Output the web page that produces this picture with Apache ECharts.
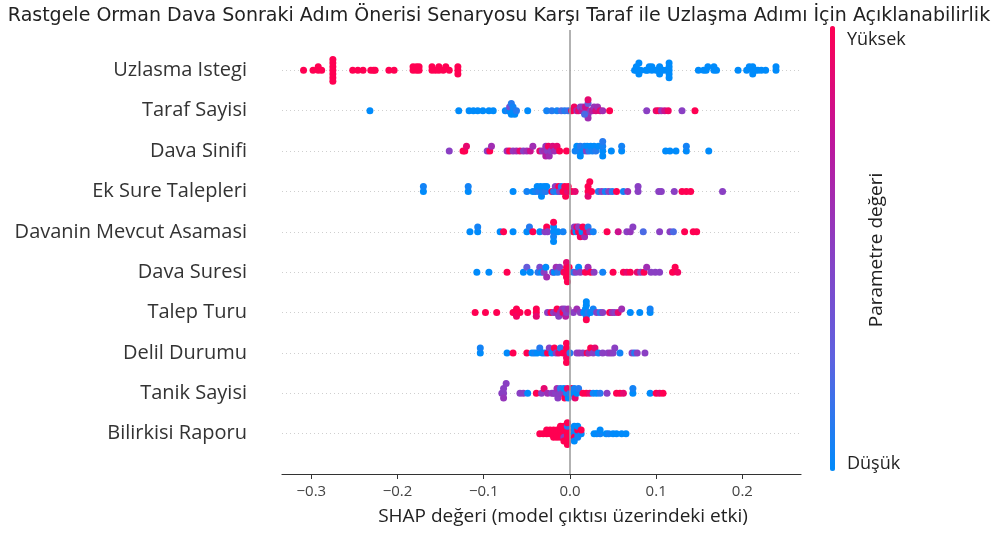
<!DOCTYPE html>
<html>
<head>
<meta charset="utf-8">
<script src="https://cdn.jsdelivr.net/npm/echarts@6/dist/echarts.min.js"></script>
<style>
  html, body { margin: 0; padding: 0; background: #fff; }
  #chart { width: 998px; height: 534px; }
</style>
</head>
<body>
<div id="chart"></div>
<script>
// feature names, top to bottom
const features = ['Uzlasma Istegi', 'Taraf Sayisi', 'Dava Sinifi', 'Ek Sure Talepleri', 'Davanin Mevcut Asamasi',
  'Dava Suresi', 'Talep Turu', 'Delil Durumu', 'Tanik Sayisi', 'Bilirkisi Raporu'];
const xTicks = [-0.3, -0.2, -0.1, 0, 0.1, 0.2];

// [shap value, feature value (0 = düşük, 1 = yüksek)]
const uzlasmaIstegi = [
  [-0.309,1],[-0.298,1],[-0.292,1],[-0.292,1],[-0.288,1],
  [-0.275,1],[-0.275,1],[-0.275,1],[-0.275,1],[-0.275,1],[-0.275,1],[-0.275,1],
  [-0.252,1],[-0.246,1],[-0.240,1],[-0.231,1],[-0.228,1],[-0.226,1],[-0.210,1],[-0.204,1],
  [-0.182,1],[-0.182,1],[-0.178,1],[-0.178,1],[-0.175,1],[-0.175,1],
  [-0.160,1],[-0.160,1],[-0.156,1],[-0.152,1],[-0.152,1],[-0.147,1],[-0.144,1],[-0.140,1],
  [-0.130,1],[-0.130,1],[-0.130,1],
  [0.075,0],[0.077,0],[0.077,0],[0.080,0],[0.080,0],[0.082,0],[0.088,0],[0.090,0],[0.092,0],[0.095,0],[0.095,0],
  [0.100,0],[0.102,0],[0.104,0],[0.104,0],[0.108,0],[0.112,0],[0.115,0],[0.115,0],[0.115,0],[0.115,0],[0.115,0],
  [0.149,0],[0.155,0],[0.158,0],[0.160,0],[0.167,0],[0.167,0],[0.170,0],[0.195,0],
  [0.205,0],[0.208,0],[0.212,0],[0.212,0],[0.212,0],[0.215,0],[0.218,0],[0.222,0],[0.227,0],[0.239,0],[0.239,0]
];
const tarafSayisi = [
  [-0.232,0],[-0.129,0],[-0.117,0],[-0.112,0],[-0.107,0],[-0.101,0],[-0.094,0],[-0.089,0],
  [-0.075,0],[-0.072,0.1],[-0.070,0],[-0.070,0.4],[-0.068,0],[-0.068,0.1],[-0.066,0],[-0.066,0.05],[-0.064,0],[-0.062,0.1],
  [-0.049,0],[-0.027,0.05],[-0.021,0.1],[-0.015,0.05],[-0.010,0.2],[-0.006,0.1],[-0.002,0.15],
  [0.002,1],[0.005,0.95],[0.008,0.6],[0.010,0.9],[0.012,0.5],[0.014,0.7],[0.015,0.5],[0.018,0.6],[0.018,0.8],
  [0.021,0.5],[0.021,0.3],[0.021,0.6],[0.021,0.9],[0.024,0.5],[0.026,0.7],[0.028,0.55],[0.030,0.85],[0.032,0.6],
  [0.035,0.9],[0.038,0.6],[0.017,0.2],[0.046,1],
  [0.089,0.5],[0.100,0.9],[0.103,1],[0.106,0.6],[0.110,0.8],[0.114,0.95],[0.130,0.5],[0.145,1]
];
const davaSinifi = [
  [-0.140,0.5],[-0.124,1],[-0.122,1],[-0.120,0.9],[-0.096,0.5],[-0.093,1],[-0.091,0.6],[-0.073,0.6],[-0.070,1],
  [-0.066,0.55],[-0.062,0.6],[-0.058,0.9],[-0.054,0.5],[-0.050,0.6],[-0.046,0.8],[-0.043,0.6],
  [-0.035,0.9],[-0.032,0.5],[-0.030,0.6],[-0.028,0.55],[-0.028,0.7],[-0.026,0.5],[-0.025,0.95],[-0.024,0.6],
  [-0.022,0.5],[-0.020,0.85],[-0.018,0.6],[-0.015,0.9],[-0.012,1],[-0.004,1],
  [0.006,0.05],[0.008,0],[0.010,0.05],[0.012,0.1],[0.012,0],[0.015,0],[0.017,0.05],[0.019,0.5],[0.020,0],
  [0.022,0.1],[0.024,0],[0.026,0.05],[0.028,0],[0.030,0.1],[0.033,0],
  [0.038,0],[0.038,0.05],[0.038,0],[0.038,0.1],[0.048,0],[0.060,0],[0.060,0.05],
  [0.111,0],[0.116,0],[0.123,0],[0.135,0],[0.135,0.05],[0.161,0]
];
const ekSureTalepleri = [
  [-0.170,0],[-0.170,0.05],[-0.118,0],[-0.118,0.05],[-0.066,0],[-0.050,0.05],
  [-0.043,0],[-0.040,0.05],[-0.038,0],[-0.036,0.1],[-0.034,0],[-0.033,0],[-0.031,0.05],[-0.030,0],[-0.028,0.1],[-0.027,0],
  [-0.021,1],[-0.019,0.1],[-0.017,0.5],[-0.015,0.05],[-0.013,1],[-0.012,0.5],[-0.010,0.1],[-0.008,1],
  [-0.006,1],[-0.005,1],[-0.003,0.9],[-0.002,1],[0.002,1],[0.006,0.9],
  [0.021,1],[0.021,1],[0.021,0.9],[0.023,1],[0.025,1],[0.033,0.1],[0.037,0.5],[0.041,0.05],[0.045,0.5],[0.049,0.1],
  [0.054,1],[0.062,0.05],[0.067,0.6],[0.079,0.5],[0.079,0.5],[0.103,0.5],[0.106,0.5],[0.121,0.5],
  [0.130,1],[0.135,1],[0.140,1],[0.177,0.5]
];
const davaninMevcutAsamasi = [
  [-0.116,0],[-0.107,0],[-0.107,0.05],[-0.081,0],[-0.077,1],[-0.066,0],[-0.050,0],[-0.047,0.1],[-0.043,1],
  [-0.035,0],[-0.029,0.5],[-0.027,1],[-0.026,0.5],[-0.019,0],[-0.019,0],[-0.019,0.05],[-0.019,1],[-0.019,0],
  [-0.014,0],[-0.008,0.05],
  [0.004,1],[0.005,0.5],[0.007,0],[0.008,0.9],[0.010,1],[0.010,0.5],[0.012,0.95],[0.014,0],[0.015,1],
  [0.017,0.6],[0.019,0.9],[0.021,0.1],[0.023,0.5],[0.027,0.05],[0.043,1],[0.056,0.8],[0.066,0.5],[0.070,0.55],
  [0.073,0.5],[0.085,0.2],[0.104,0.5],[0.116,0.5],[0.120,0.2],[0.133,1],[0.143,1],[0.147,1]
];
const davaSuresi = [
  [-0.108,0],[-0.094,0],[-0.073,1],[-0.054,0],[-0.050,0.3],[-0.046,0],[-0.037,0.1],[-0.035,0.4],[-0.033,0],
  [-0.030,0.5],[-0.028,0],[-0.027,0.6],[-0.020,0.5],[-0.018,0],[-0.016,0.6],[-0.014,0.1],[-0.012,0.5],
  [-0.007,1],[-0.005,0.95],[-0.004,1],[-0.004,1],[-0.004,0.9],[-0.003,1],[-0.002,1],[-0.001,1],
  [0.004,0.1],[0.007,0.5],[0.010,0],[0.012,0.5],[0.018,1],[0.021,0.6],[0.024,1],[0.028,0.5],[0.038,0.05],
  [0.050,1],[0.062,1],[0.066,0.9],[0.070,1],[0.078,0.9],[0.082,0.5],[0.086,1],[0.089,0.6],[0.094,0.5],
  [0.099,0.5],[0.104,0.5],[0.119,1],[0.122,1],[0.125,0.95]
];
const talepTuru = [
  [-0.110,1],[-0.098,1],[-0.085,1],[-0.066,1],[-0.064,1],[-0.062,1],[-0.062,0.95],[-0.058,1],[-0.049,1],
  [-0.039,1],[-0.039,1],[-0.039,0.9],[-0.026,0.5],[-0.022,1],[-0.019,0.5],[-0.016,0.6],[-0.015,1],
  [-0.013,0.5],[-0.011,0.55],[-0.009,0.6],[-0.008,1],[-0.006,0.5],[-0.005,0.7],[-0.004,0.5],[-0.002,0.6],
  [0.004,0.5],[0.008,0.6],[0.012,0.5],
  [0.016,0],[0.018,0],[0.019,0.05],[0.019,0],[0.019,1],[0.019,0],[0.021,0.1],[0.024,0],[0.027,0.05],
  [0.031,0.5],[0.035,0.1],[0.038,0.5],[0.046,1],[0.049,0.6],[0.052,0.5],[0.056,0.9],[0.060,0.6],
  [0.070,0],[0.081,0],[0.093,0],[0.093,0.05]
];
const delilDurumu = [
  [-0.104,0],[-0.104,0.05],[-0.073,0],[-0.066,1],[-0.050,1],[-0.044,0],[-0.041,0.05],[-0.038,0],[-0.035,0.1],
  [-0.032,0],[-0.029,0.05],[-0.026,1],[-0.024,0.5],[-0.021,0],[-0.018,1],[-0.016,0.5],[-0.013,0.9],[-0.011,0.1],
  [-0.008,1],[-0.004,1],[-0.004,1],[-0.004,0.95],[-0.004,1],[-0.004,1],[0.000,0.1],
  [0.008,0.5],[0.011,0.55],[0.015,0.5],[0.020,1],[0.022,0.6],[0.024,1],[0.027,0.5],[0.029,0.9],[0.033,0.05],
  [0.038,0.5],[0.044,0.5],[0.047,0.55],[0.050,0.5],[0.052,0.5],[0.058,0.05],[0.072,0.5],[0.075,0.1],
  [0.078,0.5],[0.087,0.5]
];
const tanikSayisi = [
  [-0.079,0.5],[-0.077,0.5],[-0.077,0.5],[-0.077,0.55],[-0.074,0.5],[-0.058,0.5],[-0.054,0.5],[-0.049,0],
  [-0.039,1],[-0.033,0.5],[-0.030,0.9],[-0.026,0.6],[-0.021,0.5],[-0.019,0.55],[-0.017,0.5],[-0.015,0.6],
  [-0.014,0.5],[-0.012,0.5],[-0.011,0.1],[-0.009,0.5],[-0.007,0],[-0.006,1],[-0.004,0.05],[-0.003,0.9],
  [-0.002,0],[0.000,0.1],[0.002,1],[0.003,0],[0.005,0.05],[0.006,0.9],[0.008,0],[0.010,0.1],
  [0.015,1],[0.019,1],[0.023,0.9],[0.027,0.05],[0.031,0],[0.035,0.1],[0.043,0.5],[0.054,1],[0.058,1],
  [0.062,0.9],[0.073,0],[0.073,0.05],[0.093,0],[0.100,1],[0.104,0.9],[0.108,1]
];
const bilirkisiRaporu = [
  [-0.035,1],[-0.031,1],[-0.027,1],[-0.027,1],[-0.023,1],[-0.023,1],
  [-0.019,1],[-0.019,1],[-0.019,1],[-0.015,1],[-0.015,1],[-0.015,1],
  [-0.011,1],[-0.011,1],[-0.011,1],[-0.011,1],
  [-0.007,1],[-0.007,1],[-0.007,0.5],[-0.007,1],[-0.007,1],
  [-0.003,1],[-0.003,1],[-0.003,1],[-0.003,0.1],[-0.003,1],[-0.003,1],[-0.003,1],
  [0.005,0],[0.005,0.05],[0.005,1],[0.005,0],[0.005,0],[0.009,0],[0.009,1],[0.009,0.05],[0.009,0],
  [0.013,0],[0.013,1],
  [0.028,0],[0.031,0],[0.035,0.05],[0.035,0],[0.042,0],[0.045,0.05],[0.050,0],[0.054,0],[0.060,0],[0.065,0]
];

const rows = [uzlasmaIstegi, tarafSayisi, davaSinifi, ekSureTalepleri, davaninMevcutAsamasi,
  davaSuresi, talepTuru, delilDurumu, tanikSayisi, bilirkisiRaporu];
const n = features.length;

// beeswarm offsets, same idea as shap: bin the x values, stack alternately up/down
function swarm(row, pos) {
  const bin = 0.004;
  const mn = Math.min(...row.map(p => p[0]));
  const q = row.map(p => Math.round((p[0] - mn) / bin));
  const order = row.map((p, i) => i).sort((a, b) => q[a] - q[b] || a - b);
  const ys = new Array(row.length).fill(0);
  let layer = 0, last = -1;
  order.forEach(i => {
    if (q[i] !== last) layer = 0;
    ys[i] = Math.ceil(layer / 2) * ((layer % 2) * 2 - 1);
    layer++;
    last = q[i];
  });
  const mx = Math.max(...ys) + 1;
  return row.map((p, i) => [p[0], pos + ys[i] * 0.9 * (0.4 / mx), p[1]]);
}

let points = [];
rows.forEach((row, i) => { points = points.concat(swarm(row, n - 1 - i)); });

const chart = echarts.init(document.getElementById('chart'));
chart.setOption({
  animation: false,
  title: {
    text: 'Rastgele Orman Dava Sonraki Adım Önerisi Senaryosu Karşı Taraf ile Uzlaşma Adımı İçin Açıklanabilirlik',
    left: 'center', top: 2,
    textStyle: { fontFamily: 'DejaVu Sans', fontSize: 19, fontWeight: 'normal', color: '#222' }
  },
  grid: { left: 282, right: 197, top: 30, bottom: 60 },
  xAxis: {
    type: 'value', min: -0.334, max: 0.268,
    splitLine: { show: false },
    axisLine: { onZero: false, lineStyle: { color: '#333', width: 1.2 } },
    axisTick: { customValues: xTicks, length: 5, lineStyle: { color: '#333' } },
    axisLabel: {
      customValues: xTicks, margin: 10, fontSize: 15, color: '#444', fontFamily: 'Open Sans',
      formatter: v => (v < 0 ? '\u2212' + Math.abs(v).toFixed(1) : v.toFixed(1))
    },
    name: 'SHAP değeri (model çıktısı üzerindeki etki)',
    nameLocation: 'middle', nameGap: 33,
    nameTextStyle: { fontSize: 19, color: '#222', fontFamily: 'Open Sans', padding: [0, 0, 0, 43] }
  },
  yAxis: {
    type: 'value', min: -1, max: n, interval: 1,
    axisLine: { show: false }, axisTick: { show: false },
    splitLine: { show: true, showMinLine: false, showMaxLine: false,
      lineStyle: { color: '#cfcfcf', type: [1, 3], width: 1 } },
    axisLabel: {
      margin: 35, fontSize: 20, color: '#333', fontFamily: 'Open Sans',
      formatter: v => (v >= 0 && v < n ? features[n - 1 - v] : '')
    }
  },
  visualMap: {
    type: 'continuous', min: 0, max: 1, dimension: 2, seriesIndex: 0,
    calculable: false, hoverLink: false, text: null,
    orient: 'vertical', left: 815, top: 11, itemWidth: 5, itemHeight: 445,
    inRange: { color: ['#008bfb', '#5d62e0', '#8a3fc3', '#c0149a', '#ff0052'] }
  },
  graphic: [
    { type: 'text', left: 847, top: 31, style: { text: 'Yüksek', fontSize: 18, fill: '#222', fontFamily: 'Open Sans' } },
    { type: 'text', left: 847, top: 455, style: { text: 'Düşük', fontSize: 18, fill: '#222', fontFamily: 'Open Sans' } },
    { type: 'text', x: 877, y: 250, rotation: Math.PI / 2,
      style: { text: 'Parametre değeri', fontSize: 19, fill: '#222', fontFamily: 'Open Sans', align: 'center', verticalAlign: 'middle' } }
  ],
  series: [{
    type: 'scatter',
    symbolSize: 7,
    itemStyle: { opacity: 1 },
    data: points,
    markLine: {
      silent: true, symbol: 'none', label: { show: false },
      lineStyle: { color: '#999', type: 'solid', width: 1.5 },
      data: [{ xAxis: 0 }]
    }
  }]
});
</script>
</body>
</html>
